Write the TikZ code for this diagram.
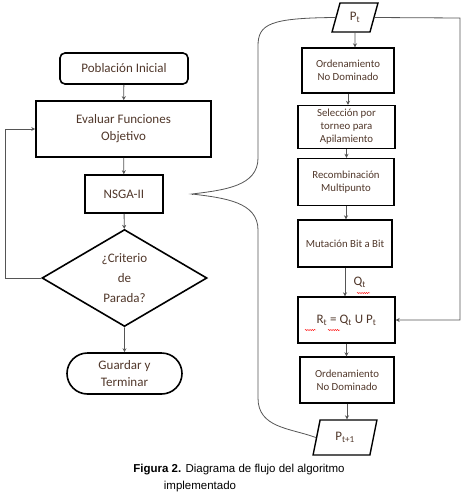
\documentclass[tikz,border=0pt]{standalone}
\usepackage{fontspec}
\setmainfont{Carlito}
\newfontfamily\capfont{Liberation Sans}
\usetikzlibrary{shapes.geometric,shapes.misc,arrows.meta,decorations.pathmorphing}
\definecolor{txtbrown}{RGB}{80,55,42}
\definecolor{linegray}{RGB}{85,85,85}
\tikzset{
  bigbox/.style={draw, line width=1.6pt, align=center, text=txtbrown, font=\fontsize{13}{17}\selectfont, inner sep=0pt},
  smallbox/.style={draw, line width=1.4pt, align=center, text=txtbrown, font=\fontsize{10.8}{13}\selectfont, inner sep=0pt},
  iobox/.style={draw, line width=1.4pt, trapezium, trapezium stretches=true, inner sep=0pt, font=\fontsize{13}{15}\selectfont, text=txtbrown},
  flow/.style={draw=linegray, line width=0.8pt, -{Stealth[length=4pt,width=4pt]}},
  squiggle/.style={red, line width=0.4pt, decorate, decoration={snake, amplitude=0.6pt, segment length=2.2pt}}
}
\begin{document}
\begin{tikzpicture}[x=1pt, y=-1pt]
  \useasboundingbox (0,0) rectangle (465,501);

  % Main flow
  \node[bigbox, rounded corners=5pt, minimum width=128, minimum height=31] (pob) at (124,68.5) {Población Inicial};
  \node[bigbox, minimum width=175, minimum height=56] (eval) at (123.5,129) {Evaluar Funciones\\Objetivo};
  \node[bigbox, minimum width=78, minimum height=38] (nsga) at (124,194) {NSGA-II};
  \node[bigbox, diamond, aspect=1.7, minimum width=165, minimum height=97, font=\fontsize{13}{20}\selectfont] (crit) at (124.5,278) {¿Criterio\\de\\Parada?};
  \node[bigbox, rounded rectangle, minimum width=115, minimum height=41] (fin) at (124.5,373.5) {Guardar y\\Terminar};

  \draw[flow] (pob) -- (eval);
  \draw[flow] (eval) -- (nsga);
  \draw[flow] (nsga) -- (crit);
  \draw[flow] (crit) -- (fin);

  % Loop back
  \coordinate (loop) at (5,278);
  \draw[flow] (crit.west) -- (loop) |- (eval.west);

  % NSGA-II detail
  \node[iobox, trapezium left angle=75, trapezium right angle=105, minimum width=46, minimum height=29] (pt) at (355,17.5) {P\textsubscript{t}};
  \node[smallbox, minimum width=92, minimum height=45] (ord1) at (348,70.5) {Ordenamiento\\No Dominado};
  \node[smallbox, minimum width=97, minimum height=43] (sel) at (346.5,127) {Selección por\\torneo para\\Apilamiento};
  \node[smallbox, minimum width=96, minimum height=47] (rec) at (346,182) {Recombinación\\Multipunto};
  \node[smallbox, minimum width=94, minimum height=47] (mut) at (345,243.5) {Mutación Bit a Bit};
  \node[bigbox, line width=1.4pt, minimum width=97, minimum height=46] (rt) at (346.5,320) {R\textsubscript{t} = Q\textsubscript{t} U P\textsubscript{t}};
  \node[smallbox, minimum width=94, minimum height=46] (ord2) at (347,380) {Ordenamiento\\No Dominado};
  \node[iobox, trapezium left angle=75, trapezium right angle=105, minimum width=64, minimum height=35] (pt1) at (345,437.5) {P\textsubscript{t+1}};

  \draw[flow] (pt) -- (pt |- ord1.north);
  \draw[flow] (ord1) -- (ord1 |- sel.north);
  \draw[flow] (sel) -- (sel |- rec.north);
  \draw[flow] (rec) -- (rec |- mut.north);
  \draw[flow] (mut) -- (mut |- rt.north) node[pos=0.5, right=5pt, text=txtbrown, font=\fontsize{13}{15}\selectfont] (qt) {Q\textsubscript{t}};
  \draw[flow] (rt) -- (rt |- ord2.north);
  \draw[flow] (ord2) -- (ord2 |- pt1.north);

  % P_t fed back into R_t
  \coordinate (side) at (460,18);
  \draw[flow] (pt.east) -- (side) |- (rt.east);

  % Brace to NSGA-II
  \coordinate (tip) at (192,194);
  \draw[linegray, line width=0.8pt] (pt.west) .. controls (270,18) and (258,24) .. (258,46)
    -- (258,158) .. controls (258,186) and (225,190) .. (tip)
    .. controls (225,198) and (258,202) .. (258,230)
    -- (258,398) .. controls (258,428) and (290,428) .. (pt1.west);
  \draw[linegray, line width=0.8pt] (nsga.east) ++(29,0) -- (tip);

  % Spell check marks
  \draw[squiggle] (357,293) -- (370,293);
  \draw[squiggle] (305,330) -- (316,330);
  \draw[squiggle] (328,330) -- (340,330);

  % Caption
  \node[font=\capfont\fontsize{11.5}{13}\selectfont] (cap1) at (239,470) {\textbf{Figura 2.} Diagrama de flujo del algoritmo};
  \node[font=\capfont\fontsize{11.5}{13}\selectfont] (cap2) at (200,487) {implementado};

\end{tikzpicture}
\end{document}
